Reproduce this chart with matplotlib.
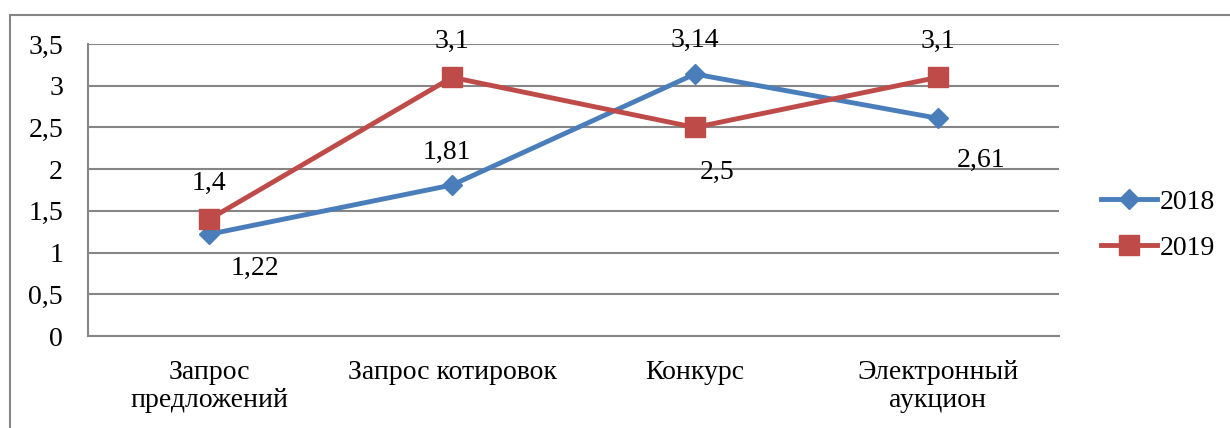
import matplotlib.pyplot as plt
from matplotlib.patches import Rectangle

plt.rcParams['font.family'] = ['Liberation Serif', 'DejaVu Serif']

categories = ["Запрос\nпредложений", "Запрос котировок", "Конкурс", "Электронный\nаукцион"]
y2018 = [1.22, 1.81, 3.14, 2.61]
y2019 = [1.4, 3.1, 2.5, 3.1]
labels2018 = ["1,22", "1,81", "3,14", "2,61"]
labels2019 = ["1,4", "3,1", "2,5", "3,1"]
yticks = [0, 0.5, 1, 1.5, 2, 2.5, 3, 3.5]
ytick_labels = ["0", "0,5", "1", "1,5", "2", "2,5", "3", "3,5"]

blue = "#4A7EBB"
red = "#BE4B48"
grey = "#868686"
fs = 20

fig = plt.figure(figsize=(12.3, 4.28), dpi=100)
ax = fig.add_axes([88 / 1230, 92 / 428, 971 / 1230, 292 / 428])

x = list(range(len(categories)))
ax.plot(x, y2018, color=blue, lw=3.5, marker="D", ms=10, label="2018")
ax.plot(x, y2019, color=red, lw=3.5, marker="s", ms=14, label="2019")

# data labels (offsets in pixels)
off2018 = [(46, -34), (-5, 33), (0, 34), (43, -42)]
off2019 = [(0, 36), (0, 36), (22, -45), (0, 36)]
for i in x:
    ax.annotate(labels2018[i], (i, y2018[i]), xytext=off2018[i], textcoords="offset pixels",
                ha="center", va="center", fontsize=fs)
    ax.annotate(labels2019[i], (i, y2019[i]), xytext=off2019[i], textcoords="offset pixels",
                ha="center", va="center", fontsize=fs)

ax.set_xlim(-0.5, 3.5)
ax.set_ylim(0, 3.5)
ax.set_yticks(yticks)
ax.set_yticklabels(ytick_labels, fontsize=fs)
ax.set_xticks(x)
ax.set_xticklabels(categories, fontsize=fs, linespacing=1.2)
ax.tick_params(length=0)
ax.tick_params(axis="y", pad=18)
ax.tick_params(axis="x", pad=17)
ax.grid(axis="y", color=grey, lw=1.5)
ax.set_axisbelow(True)
for s in ["top", "right"]:
    ax.spines[s].set_visible(False)
for s in ["left", "bottom"]:
    ax.spines[s].set_color(grey)
    ax.spines[s].set_linewidth(1.5)

ax.legend(loc="center left", bbox_to_anchor=(1.018, 0.38), frameon=False, fontsize=fs,
          handlelength=2.0, handletextpad=0.1, labelspacing=0.75)

# outer chart border
fig.patches.append(Rectangle((10 / 1230, -0.1), 1.2, (428 - 15) / 428 + 0.1,
                             transform=fig.transFigure, fill=False, edgecolor=grey, lw=1.5))

fig.savefig("out.png", dpi=100)
